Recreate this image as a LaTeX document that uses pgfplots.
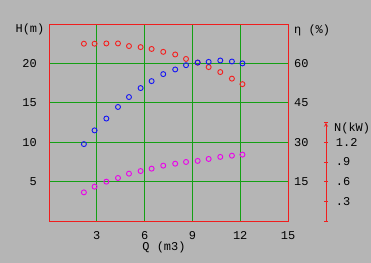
\documentclass[border=0pt]{standalone}
\usepackage{pgfplots}
\pgfplotsset{compat=1.18}
\usepackage{fontspec}
\setmainfont{Liberation Mono}
\definecolor{bg}{RGB}{181,181,181}
\definecolor{fr}{RGB}{240,30,30}
\definecolor{gr}{RGB}{20,160,20}
\definecolor{bl}{RGB}{20,20,245}
\definecolor{rd}{RGB}{245,30,30}
\definecolor{mg}{RGB}{235,0,235}
\newcommand{\tf}{\fontsize{12}{12}\selectfont}
\pgfplotsset{
  base/.style={at={(49bp,42bp)}, anchor=south west, scale only axis,
    width=239bp, height=197bp, xmin=0, xmax=15,
    major tick length=0pt, clip=false,
    /pgf/number format/assume math mode=true,
    tick label style={font=\tf, inner sep=0pt},
    axis line style={fr, line width=0.8pt}},
  mk/.style={only marks, mark=o, mark size=2.5bp, mark options={line width=0.9pt}}
}
\begin{document}
\begin{tikzpicture}[x=1bp,y=1bp]
\fill[bg] (0,0) rectangle (371,263);
% main frame with grid
\begin{axis}[base, ymin=0, ymax=25,
  xtick={3,6,9,12}, extra x ticks={15}, extra x tick style={grid=none},
  ytick={5,10,15,20},
  grid=major, major grid style={gr, line width=0.8pt},
  ytick pos=left, xtick pos=bottom,
  yticklabel style={anchor=east, xshift=-12bp},
  xticklabel style={anchor=north, yshift=-10bp}]
\end{axis}
% eta axis (right)
\begin{axis}[base, ymin=0, ymax=75, hide x axis,
  ytick={15,30,45,60}, ytick pos=right,
  yticklabel style={anchor=west, xshift=6bp}]
\addplot[mk, rd] coordinates {(2.19,67.5)(2.86,67.5)(3.60,67.6)(4.33,67.6)(5.02,66.6)(5.75,66.2)(6.44,65.5)(7.17,64.4)(7.92,63.4)(8.60,61.7)(9.33,60.3)(10.02,58.6)(10.75,56.7)(11.48,54.2)(12.14,52.1)};
\end{axis}
% H data
\begin{axis}[base, ymin=0, ymax=25, hide axis]
\addplot[mk, bl] coordinates {(2.19,9.76)(2.86,11.5)(3.60,13.0)(4.33,14.47)(5.02,15.73)(5.75,16.87)(6.44,17.75)(7.17,18.64)(7.92,19.23)(8.60,19.77)(9.33,20.11)(10.02,20.19)(10.75,20.37)(11.48,20.24)(12.14,20.0)};
\end{axis}
% N data
\begin{axis}[base, ymin=0, ymax=3, hide axis]
\addplot[mk, mg] coordinates {(2.19,0.436)(2.86,0.523)(3.60,0.599)(4.33,0.655)(5.02,0.721)(5.75,0.761)(6.44,0.797)(7.17,0.843)(7.92,0.873)(8.60,0.899)(9.33,0.915)(10.02,0.945)(10.75,0.976)(11.48,0.995)(12.14,1.011)};
\end{axis}
% N scale
\begin{axis}[at={(316bp,42bp)}, anchor=south west, scale only axis,
  width=10bp, height=98.3bp, xmin=0, xmax=1, ymin=0, ymax=1.5,
  hide x axis, axis y line=right,
  every non boxed y axis/.append style={y axis line style={-}, ytick align=inside},
  axis line style={fr, line width=0.8pt},
  major tick style={fr, line width=0.8pt}, major tick length=3.5bp,
  ytick={0.3,0.6,0.9,1.2}, yticklabels={.3,.6,.9,1.2},
  extra y ticks={0,1.5}, extra y tick labels={},
  tick label style={font=\tf, inner sep=0pt},
  yticklabel style={anchor=west, xshift=8bp}]
\end{axis}
\node[anchor=center, inner sep=0pt, font=\tf] at (30,233.5) {H(m)};
\node[anchor=west, inner sep=0pt, font=\tf] at (294,233) {η (\%)};
\node[anchor=west, inner sep=0pt, font=\tf] at (334,134.5) {N(kW)};
\node[anchor=center, inner sep=0pt, font=\tf] at (164,16) {Q (m3)};
\end{tikzpicture}
\end{document}
